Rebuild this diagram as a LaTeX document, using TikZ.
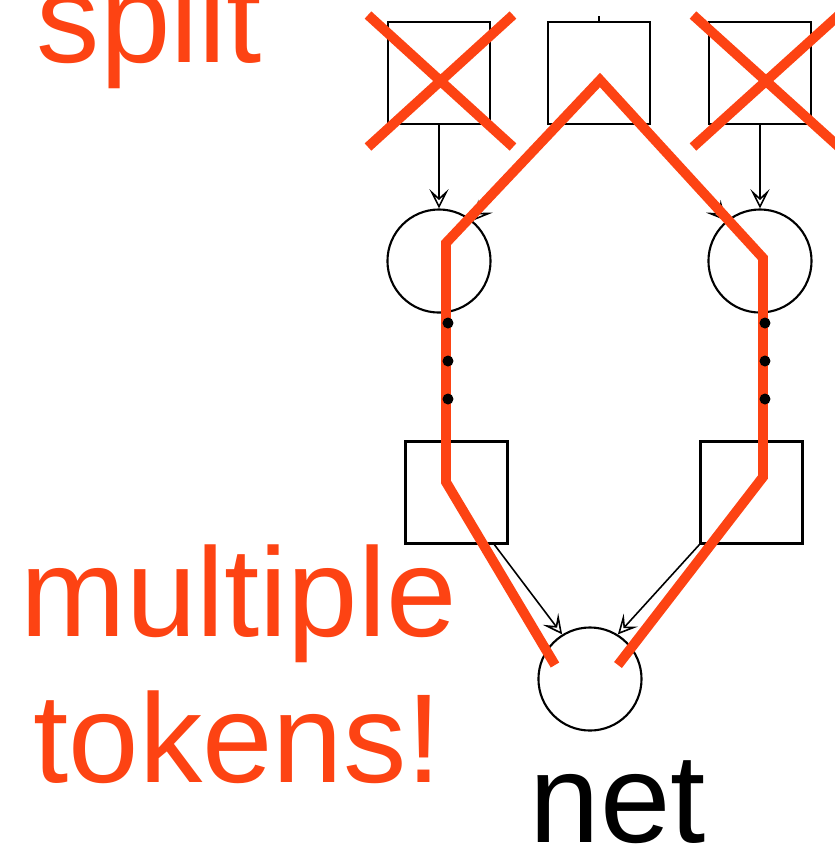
\documentclass[tikz,border=0pt]{standalone}
\usepackage{fontspec}
\setmainfont{Liberation Sans}
\usetikzlibrary{arrows.meta,positioning}
\definecolor{hilite}{RGB}{253,67,19}
\begin{document}
\begin{tikzpicture}[x=0.01cm,y=-0.01cm,
    tbox/.style={draw, line width=0.6pt, minimum size=1.02cm, inner sep=0pt},
    pcirc/.style={draw, circle, line width=0.6pt, minimum size=1.03cm, inner sep=0pt},
    flow/.style={line width=0.45pt, -{Stealth[open, length=5.5pt, width=5.5pt, inset=2.5pt]}},
    cross/.style={draw=hilite, line width=2.8pt},
    lbl/.style={anchor=base west, inner sep=0pt, font=\fontsize{36}{40}\selectfont}]
    \useasboundingbox (0,0) rectangle (835,847);
    \clip (0,0) rectangle (835,847);
    % top transitions
    \node[tbox] (tl) at (439,73) {};
    \node[tbox] (tm) at (599,73) {};
    \node[tbox] (tr) at (760,73) {};
    \coordinate (stub) at (599,16);
    \draw[line width=0.6pt] (tm.north) -- (stub);
    % places
    \node[pcirc] (pl) at (439,261) {};
    \node[pcirc] (pr) at (760,261) {};
    \node[pcirc] (pn) at (590,679) {};
    % bottom transitions
    \node[tbox] (bl) at (456.5,492.5) {};
    \node[tbox] (br) at (751.5,492.5) {};
    \draw[flow] (tl.south) -- (pl.north);
    \draw[flow] (tr.south) -- (pr.north);
    \draw[flow] (tm.-129) -- (pl.50);
    \draw[flow] (tm.-51) -- (pr.130);
    \draw[flow] (bl.-54) -- (pn.122);
    \draw[flow] (br.south west) -- (pn.58);
    % crossed out
    \draw[cross] (368,15) -- (513,147) (513,15) -- (368,147);
    \draw[cross] (693,15) -- (839,147) (839,15) -- (693,147);
    \draw[cross, miter limit=10] (555,665) -- (446,482) -- (446,243) -- (600,80)
        -- (763,258) -- (763,477) -- (618,665);
    \foreach \y in {323,361,399} {
        \fill (448,\y) circle (5.5);
        \fill (765,\y) circle (5.5);
    }
    % labels
    \node[lbl, text=hilite] (split) at (36,62) {split};
    \node[lbl, text=hilite] (multi) at (20,636) {multiple};
    \node[lbl, text=hilite] (tok) at (33,782) {tokens!};
    \node[lbl] (net) at (529,842) {net};
\end{tikzpicture}
\end{document}
